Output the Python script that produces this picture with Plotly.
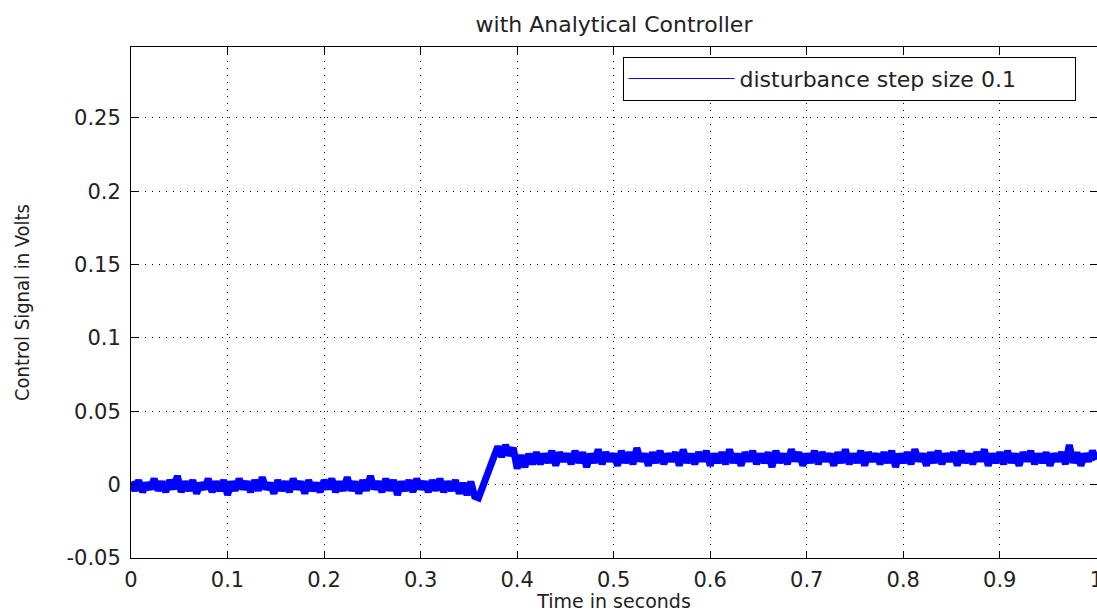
import plotly.graph_objects as go

# ---- data ----
sample_interval = 0.004  # seconds between samples

pre_step = [
    0.002, -0.004, 0.003, -0.005, 0.001, -0.003, 0.004, -0.004, 0.002, -0.005,
    0.003, -0.003, 0.006, -0.005, 0.002, -0.004, 0.003, -0.006, 0.001, -0.003,
    0.004, -0.005, 0.002, -0.004, 0.003, -0.007, 0.002, -0.004, 0.004, -0.003,
    0.002, -0.005, 0.003, -0.004, 0.005, -0.003, 0.001, -0.006, 0.003, -0.004,
    0.002, -0.005, 0.004, -0.003, 0.002, -0.006, 0.003, -0.004, 0.001, -0.005,
    0.003, -0.003, 0.004, -0.005, 0.002, -0.004, 0.005, -0.004, 0.002, -0.006,
    0.003, -0.004, 0.006, -0.003, 0.002, -0.005, 0.004, -0.004, 0.003, -0.007,
    0.002, -0.004, 0.003, -0.005, 0.004, -0.003, 0.002, -0.005, 0.003, -0.004,
    0.004, -0.005, 0.002, -0.004, 0.003, -0.006, 0.001, -0.007, 0.002, -0.008,
]

transient = [
    -0.009, -0.003, 0.005, 0.012, 0.019, 0.026, 0.019, 0.027, 0.020, 0.025,
    0.011, 0.020, 0.012, 0.021, 0.014,
]

steady = [
    0.022, 0.014, 0.021, 0.015, 0.023, 0.013, 0.022, 0.016, 0.021, 0.014,
    0.023, 0.015, 0.022, 0.012, 0.021, 0.015, 0.024, 0.014, 0.022, 0.016,
    0.021, 0.013, 0.023, 0.015, 0.022, 0.014, 0.025, 0.016, 0.021, 0.013,
    0.022, 0.015, 0.023, 0.014, 0.021, 0.016, 0.022, 0.013, 0.024, 0.015,
    0.021, 0.014, 0.022, 0.016, 0.023, 0.013, 0.021, 0.015, 0.022, 0.014,
    0.024, 0.015, 0.021, 0.013, 0.022, 0.016, 0.023, 0.014, 0.021, 0.015,
    0.022, 0.012, 0.023, 0.015, 0.021, 0.014, 0.024, 0.016, 0.022, 0.013,
    0.021, 0.015, 0.023, 0.014, 0.022, 0.016, 0.021, 0.013, 0.022, 0.015,
    0.024, 0.014, 0.021, 0.015, 0.023, 0.013, 0.022, 0.016, 0.021, 0.014,
    0.022, 0.015, 0.023, 0.012, 0.021, 0.015, 0.022, 0.014, 0.024, 0.016,
    0.021, 0.013, 0.022, 0.015, 0.023, 0.014, 0.021, 0.016, 0.022, 0.013,
    0.023, 0.015, 0.021, 0.014, 0.022, 0.016, 0.024, 0.013, 0.021, 0.015,
    0.022, 0.014, 0.023, 0.015, 0.021, 0.013, 0.022, 0.016, 0.023, 0.014,
    0.021, 0.015, 0.022, 0.013, 0.021, 0.016, 0.022, 0.014, 0.027, 0.015,
    0.022, 0.013, 0.021, 0.016, 0.023, 0.017,
]

control_signal = pre_step + transient + steady
time_s = [round(i * sample_interval, 3) for i in range(len(control_signal))]

x_ticks = [0, 0.1, 0.2, 0.3, 0.4, 0.5, 0.6, 0.7, 0.8, 0.9, 1.0]
x_ticktext = ["0", "0.1", "0.2", "0.3", "0.4", "0.5", "0.6", "0.7", "0.8", "0.9", "1"]
y_ticks = [-0.05, 0, 0.05, 0.1, 0.15, 0.2, 0.25]
y_ticktext = ["-0.05", "0", "0.05", "0.1", "0.15", "0.2", "0.25"]

series_name = "disturbance step size 0.1"
title_text = "with Analytical Controller"
x_title = "Time in seconds"
y_title = "Control Signal in Volts"

# ---- figure ----
FONT = "DejaVu Sans, Verdana, sans-serif"
FS = 21
TXT = "#222"

fig = go.Figure()
fig.add_trace(go.Scatter(
    x=time_s, y=control_signal, mode="lines",
    line=dict(color="#0000FF", width=7),
    showlegend=False, hoverinfo="x+y",
))
# legend entry (thin line, as in the original)
fig.add_trace(go.Scatter(
    x=[None], y=[None], mode="lines", name=series_name,
    line=dict(color="#0000FF", width=1),
))

axis_common = dict(
    showline=True, linecolor="black", linewidth=1, mirror="ticks",
    ticks="inside", ticklen=7, tickwidth=1, tickcolor="black",
    showgrid=True, gridcolor="black", gridwidth=1, griddash="1px,6px",
    zeroline=False,
    tickfont=dict(family=FONT, size=FS, color=TXT),
)

fig.update_layout(
    width=1097, height=612,
    margin=dict(l=131, r=0, t=47, b=52),
    paper_bgcolor="white", plot_bgcolor="white",
    title=dict(text=title_text, x=0.5, xref="paper", xanchor="center",
               y=1 - 24 / 612, yref="container", yanchor="middle",
               font=dict(family=FONT, size=22, color=TXT)),
    xaxis=dict(range=[0, 1.0007], tickvals=x_ticks, ticktext=x_ticktext,
               ticklabelstandoff=3, ticklabeloverflow="allow",
               automargin="bottom",
               title=dict(text=x_title, standoff=6,
                          font=dict(family=FONT, size=19, color=TXT)),
               **axis_common),
    yaxis=dict(range=[-0.05, 0.2984], tickvals=y_ticks, ticktext=y_ticktext,
               ticklabelstandoff=5, automargin=False,
               title=dict(text=y_title, standoff=31,
                          font=dict(family="Liberation Sans Narrow, DejaVu Sans Condensed, Liberation Sans",
                                    size=20, color=TXT)),
               **axis_common),
    legend=dict(x=0.5088, y=0.981, xanchor="left", yanchor="top",
                orientation="h", entrywidth=330, entrywidthmode="pixels",
                bgcolor="white", bordercolor="black", borderwidth=1,
                font=dict(family=FONT, size=22, color=TXT),
                itemwidth=106),
    showlegend=True,
)

fig.write_html("out.html")
